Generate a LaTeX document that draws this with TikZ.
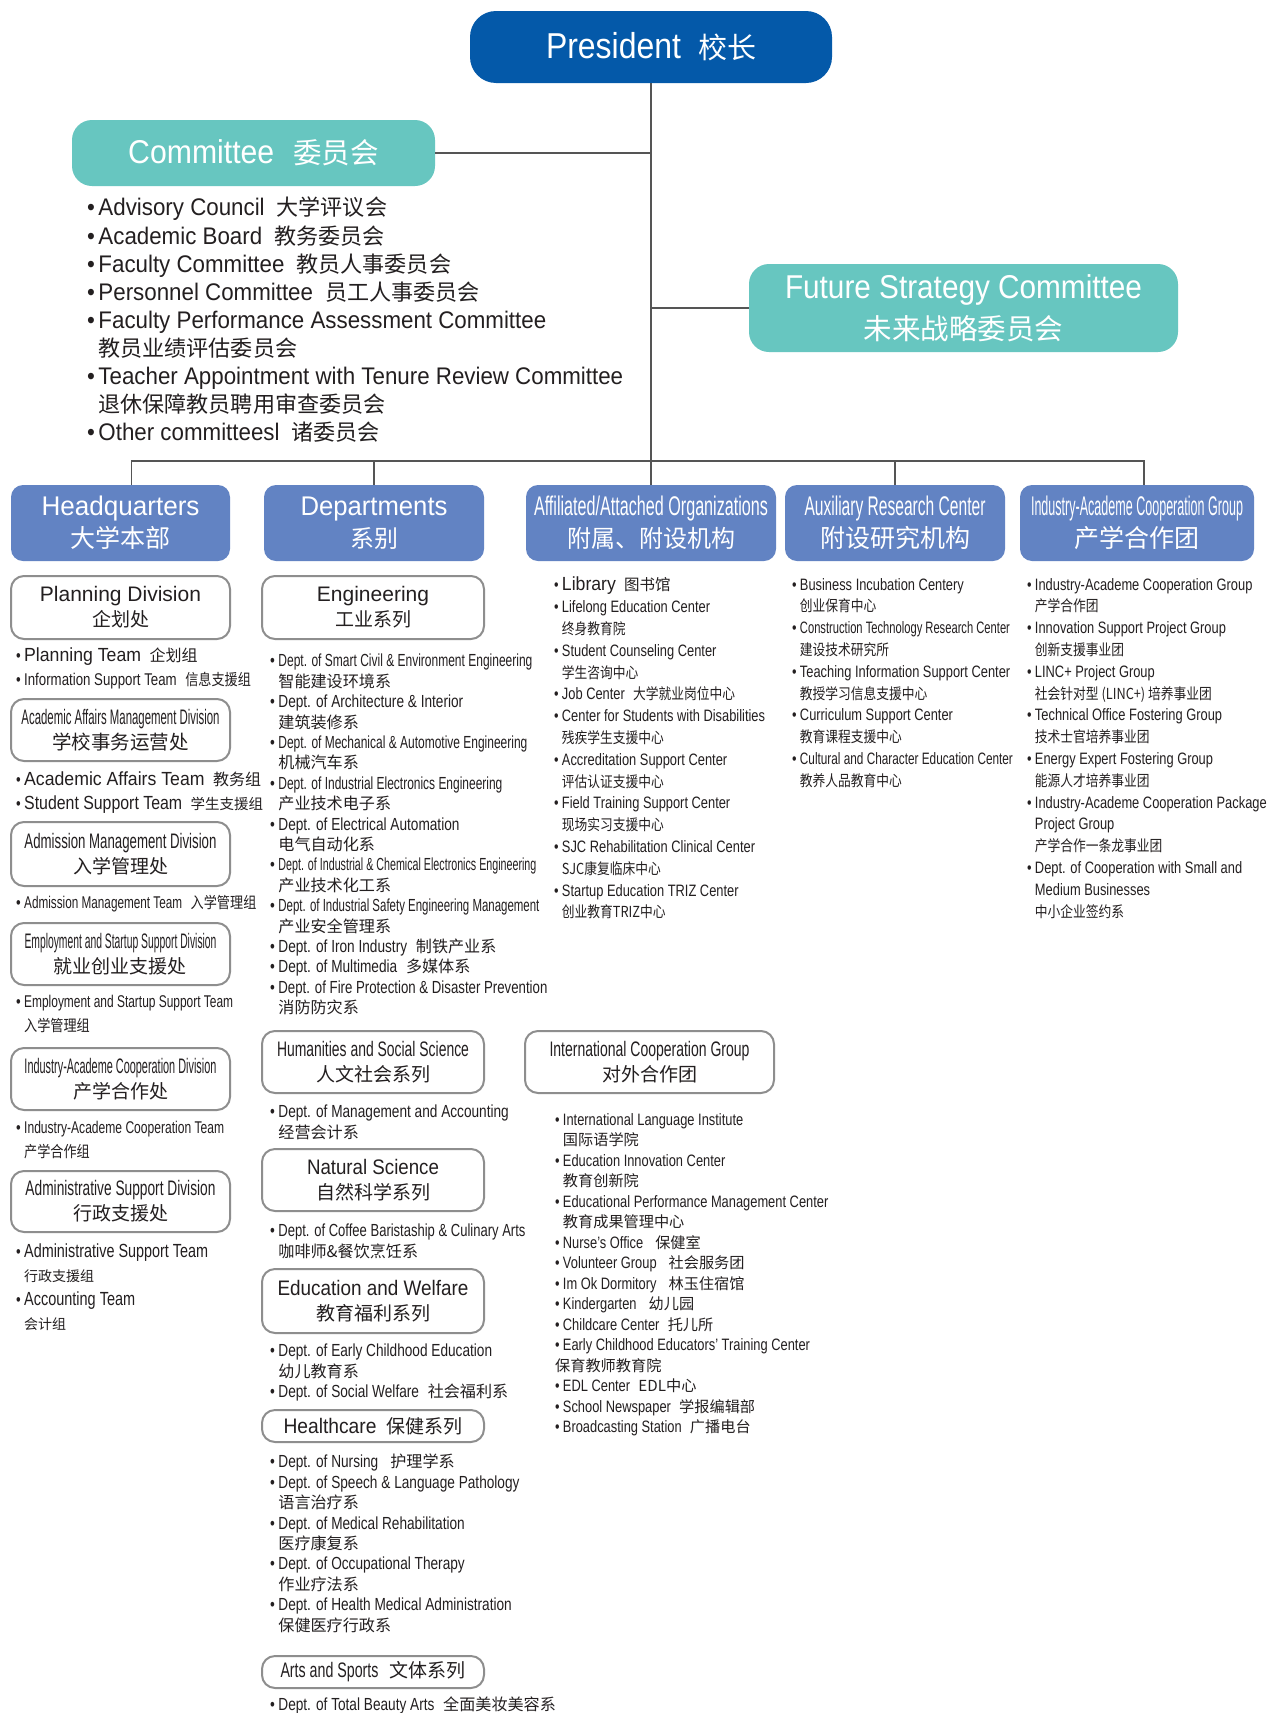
\documentclass[tikz,border=0pt]{standalone}
\usepackage{fontspec}
\usepackage{graphicx}
\setmainfont{Liberation Sans}
\newfontfamily\cnd{Liberation Sans}[FakeStretch=0.78]
\newfontfamily\mdf{Liberation Sans}[FakeStretch=0.93]
\newfontfamily\cjk{Noto Sans CJK SC}
\newfontfamily\cjkA{Noto Sans CJK SC}[Scale=0.92]
\newfontfamily\cjkB{Noto Sans CJK SC}[Scale=0.92, FakeStretch=0.84]
\let\zhf\cjkA
\newcommand\zh[1]{{\zhf#1}}
\newcommand\zt[2]{{\cjk\fontsize{#1}{#1}\selectfont#2}}
\newcommand\fw[2]{\resizebox{#1pt}{\height}{#2}}
\newcommand\gp{\hspace{.5em}}
\newcommand\bul{\makebox[.47em][l]{•}}
\newcommand\cnt{\hspace*{.47em}}
\newcommand\lrg[1]{{\mdf\fontsize{19}{24}\selectfont#1}}

\definecolor{presblue}{HTML}{0459A9}
\definecolor{comgreen}{HTML}{67C6C0}
\definecolor{headblue}{HTML}{6283C3}
\definecolor{boxgray}{HTML}{8E8E8E}
\definecolor{linkgray}{HTML}{555555}
\definecolor{txt}{HTML}{231F20}

\tikzset{
  link/.style={draw=linkgray, line width=1.4pt},
  presbox/.style={fill=presblue, text=white, rounded corners=26pt, minimum width=362pt,
    minimum height=72pt, inner sep=0pt, font=\fontsize{36}{40}\selectfont},
  combox/.style={fill=comgreen, text=white, rounded corners=20pt, inner sep=0pt,
    align=center, font=\fontsize{33}{41}\selectfont},
  headbox/.style={fill=headblue, text=white, rounded corners=12pt, minimum height=76pt,
    inner sep=0pt, align=center, font=\fontsize{27}{32}\selectfont},
  unit/.style={draw=boxgray, line width=2pt, fill=white, rounded corners=13pt,
    minimum width=219pt, inner sep=0pt, align=center, text=txt,
    font=\fontsize{21}{25}\selectfont},
  lst/.style={anchor=north west, inner sep=0pt, align=left, text=txt,
    execute at begin node=\strut},
  hqf/.style={font={\cnd\fontsize{17}{24}\selectfont\let\zhf\cjkB}},
  depf/.style={font={\cnd\fontsize{17.5}{20.4}\selectfont\let\zhf\cjkA}},
  orgf/.style={font={\cnd\fontsize{16.5}{21.8}\selectfont\let\zhf\cjkB}},
  icgf/.style={font={\cnd\fontsize{16.5}{20.5}\selectfont\let\zhf\cjkA}},
  comf/.style={font={\mdf\fontsize{24}{28.1}\selectfont\let\zhf\cjkA}},
}

\begin{document}
\begin{tikzpicture}[x=1pt,y=-1pt]
\useasboundingbox (0,0) rectangle (1278,1713);
\fill[white] (0,0) rectangle (1278,1713);

% top of the chart
\node[presbox] (pres) at (651,47) {\fw{135}{President}\hspace{17pt}\zt{29}{校长}};
\node[combox, minimum width=363pt, minimum height=66pt] (com) at (253.5,153)
  {\fw{146}{Committee}\hspace{19pt}\zt{28.5}{委员会}};
\node[combox, minimum width=429pt, minimum height=88pt] (fsc) at (963.5,308)
  {\fw{357}{Future Strategy Committee}\\\zt{28.5}{未来战略委员会}};
\node[lst, comf] (comlist) at (87,197) {\bul Advisory Council\gp\zh{大学评议会}\\
  \bul Academic Board\gp\zh{教务委员会}\\
  \bul Faculty Committee\gp\zh{教员人事委员会}\\
  \bul Personnel Committee\gp\zh{员工人事委员会}\\
  \bul Faculty Performance Assessment Committee\\
  \cnt\zh{教员业绩评估委员会}\\
  \bul Teacher Appointment with Tenure Review Committee\\
  \cnt\zh{退休保障教员聘用审查委员会}\\
  \bul Other committeesl\gp\zh{诸委员会}};

% second level
\node[headbox, minimum width=219pt] (hq) at (120.5,523) {\fw{158}{Headquarters}\\\zt{25}{大学本部}};
\node[headbox, minimum width=220pt] (dep) at (374,523) {\fw{147}{Departments}\\\zt{24}{系别}};
\node[headbox, minimum width=250pt] (aff) at (651,523)
  {\fw{234}{Affiliated/Attached Organizations}\\\zt{24}{附属、附设机构}};
\node[headbox, minimum width=220pt] (aux) at (895,523)
  {\fw{181}{Auxiliary Research Center}\\\zt{25}{附设研究机构}};
\node[headbox, minimum width=234pt] (ind) at (1137,523)
  {\fw{212}{Industry-Academe Cooperation Group}\\\zt{25}{产学合作团}};

\coordinate (bus) at (651,461);
\draw[link] (pres.south) -- (aff.north);
\draw[link] (com.east) -- (com.east -| pres.south);
\draw[link] (fsc.west) -- (fsc.west -| pres.south);
\draw[link] ([xshift=11pt]hq.north) |- (bus) -| ([xshift=7pt]ind.north);
\draw[link] (dep.north) -- (dep.north |- bus);
\draw[link] (aux.north) -- (aux.north |- bus);

% headquarters
\node[unit, minimum height=63pt] (plan) at (120.5,607.5) {Planning Division\\\zt{19}{企划处}};
\node[lst, hqf] (planlist) at (16,648) {\bul\lrg{Planning Team}\gp\zt{16}{企划组}\\
  \bul Information Support Team\gp\zh{信息支援组}};
\node[unit, minimum height=62pt] (acad) at (120.5,730)
  {\fw{198}{Academic Affairs Management Division}\\\zt{19.5}{学校事务运营处}};
\node[lst, hqf] (acadlist) at (16,772) {\bul\lrg{Academic Affairs Team}\gp\zt{16}{教务组}\\
  \bul\lrg{\fw{158}{Student Support Team}}\gp\zt{14.5}{学生支援组}};
\node[unit, minimum height=64pt] (adm) at (120.5,854)
  {\fw{192}{Admission Management Division}\\\zt{19}{入学管理处}};
\node[lst, hqf] (admlist) at (16,891) {\bul\fw{158}{Admission Management Team}\gp\zh{入学管理组}};
\node[unit, minimum height=62pt] (emp) at (120.5,954)
  {\fw{192}{Employment and Startup Support Division}\\\zt{19}{就业创业支援处}};
\node[lst, hqf] (emplist) at (16,995) {\bul\fw{209}{Employment and Startup Support Team}\\
  \cnt\zh{入学管理组}};
\node[unit, minimum height=62pt] (iacd) at (120.5,1079)
  {\fw{192}{Industry-Academe Cooperation Division}\\\zt{19}{产学合作处}};
\node[lst, hqf] (iacdlist) at (16,1121) {\bul\fw{200}{Industry-Academe Cooperation Team}\\
  \cnt\zh{产学合作组}};
\node[unit, minimum height=61pt] (admin) at (120.5,1201.5)
  {\fw{190}{Administrative Support Division}\\\zt{19}{行政支援处}};
\node[lst, hqf] (adminlist) at (16,1244) {\bul\lrg{\fw{184}{Administrative Support Team}}\\
  \cnt\zt{14}{行政支援组}\\
  \bul\lrg{\fw{111}{Accounting Team}}\\
  \cnt\zt{14}{会计组}};

% departments
\node[unit, minimum width=222pt, minimum height=63pt] (eng) at (373,607.5) {Engineering\\\zt{19}{工业系列}};
\node[lst, depf] (englist) at (270,654) {\bul\fw{254}{Dept. of Smart Civil \& Environment Engineering}\\
  \cnt\zh{智能建设环境系}\\
  \bul Dept. of Architecture \& Interior\\
  \cnt\zh{建筑装修系}\\
  \bul\fw{249}{Dept. of Mechanical \& Automotive Engineering}\\
  \cnt\zh{机械汽车系}\\
  \bul\fw{224}{Dept. of Industrial Electronics Engineering}\\
  \cnt\zh{产业技术电子系}\\
  \bul Dept. of Electrical Automation\\
  \cnt\zh{电气自动化系}\\
  \bul\fw{258}{Dept. of Industrial \& Chemical Electronics Engineering}\\
  \cnt\zh{产业技术化工系}\\
  \bul\fw{261}{Dept. of Industrial Safety Engineering Management}\\
  \cnt\zh{产业安全管理系}\\
  \bul Dept. of Iron Industry\gp\zh{制铁产业系}\\
  \bul Dept. of Multimedia\gp\zh{多媒体系}\\
  \bul\fw{269}{Dept. of Fire Protection \& Disaster Prevention}\\
  \cnt\zh{消防防灾系}};
\node[unit, minimum width=222pt, minimum height=62pt] (hum) at (373,1062)
  {\fw{192}{Humanities and Social Science}\\\zt{19}{人文社会系列}};
\node[lst, depf] (humlist) at (270,1105) {\bul Dept. of Management and Accounting\\
  \cnt\zh{经营会计系}};
\node[unit, minimum width=222pt, minimum height=62pt] (nat) at (373,1180)
  {\fw{132}{Natural Science}\\\zt{19}{自然科学系列}};
\node[lst, depf] (natlist) at (270,1224) {\bul\fw{247}{Dept. of Coffee Baristaship \& Culinary Arts}\\
  \cnt\zh{咖啡师\&餐饮烹饪系}};
\node[unit, minimum width=222pt, minimum height=64pt] (edu) at (373,1301)
  {\fw{191}{Education and Welfare}\\\zt{19}{教育福利系列}};
\node[lst, depf] (edulist) at (270,1344) {\bul Dept. of Early Childhood Education\\
  \cnt\zh{幼儿教育系}\\
  \bul Dept. of Social Welfare\gp\zh{社会福利系}};
\node[unit, minimum width=222pt, minimum height=32pt] (hlth) at (373,1426)
  {\fw{93}{Healthcare}\hspace{10pt}\zt{19}{保健系列}};
\node[lst, depf] (hlthlist) at (270,1454) {\bul Dept. of Nursing\hspace{12pt}\zh{护理学系}\\
  \bul Dept. of Speech \& Language Pathology\\
  \cnt\zh{语言治疗系}\\
  \bul Dept. of Medical Rehabilitation\\
  \cnt\zh{医疗康复系}\\
  \bul Dept. of Occupational Therapy\\
  \cnt\zh{作业疗法系}\\
  \bul Dept. of Health Medical Administration\\
  \cnt\zh{保健医疗行政系}};
\node[unit, minimum width=222pt, minimum height=32pt] (arts) at (373,1672)
  {\fw{98}{Arts and Sports}\hspace{11pt}\zt{19}{文体系列}};
\node[lst, depf] (artslist) at (270,1696) {\bul Dept. of Total Beauty Arts\gp\zh{全面美妆美容系}};

% affiliated / attached
\node[lst, orgf] (afflist) at (554,577) {\bul\lrg{Library}\gp\zt{15.5}{图书馆}\\
  \bul Lifelong Education Center\\
  \cnt\zh{终身教育院}\\
  \bul Student Counseling Center\\
  \cnt\zh{学生咨询中心}\\
  \bul Job Center\gp\zh{大学就业岗位中心}\\
  \bul Center for Students with Disabilities\\
  \cnt\zh{残疾学生支援中心}\\
  \bul Accreditation Support Center\\
  \cnt\zh{评估认证支援中心}\\
  \bul Field Training Support Center\\
  \cnt\zh{现场实习支援中心}\\
  \bul SJC Rehabilitation Clinical Center\\
  \cnt\zh{SJC康复临床中心}\\
  \bul Startup Education TRIZ Center\\
  \cnt\zh{创业教育TRIZ中心}};
\node[unit, minimum width=249pt, minimum height=62pt] (icg) at (649.5,1062)
  {\fw{200}{International Cooperation Group}\\\zt{19}{对外合作团}};
\node[lst, icgf] (icglist) at (555,1113) {\bul International Language Institute\\
  \cnt\zh{国际语学院}\\
  \bul Education Innovation Center\\
  \cnt\zh{教育创新院}\\
  \bul Educational Performance Management Center\\
  \cnt\zh{教育成果管理中心}\\
  \bul Nurse’s Office\hspace{12pt}\zh{保健室}\\
  \bul Volunteer Group\hspace{12pt}\zh{社会服务团}\\
  \bul Im Ok Dormitory\hspace{12pt}\zh{林玉住宿馆}\\
  \bul Kindergarten\hspace{12pt}\zh{幼儿园}\\
  \bul Childcare Center\gp\zh{托儿所}\\
  \bul Early Childhood Educators’ Training Center\\
  \zh{保育教师教育院}\\
  \bul EDL Center\gp\zh{EDL中心}\\
  \bul School Newspaper\gp\zh{学报编辑部}\\
  \bul Broadcasting Station\gp\zh{广播电台}};

% auxiliary research centers
\node[lst, orgf] (auxlist) at (792,578) {\bul Business Incubation Centery\\
  \cnt\zh{创业保育中心}\\
  \bul\fw{210}{Construction Technology Research Center}\\
  \cnt\zh{建设技术研究所}\\
  \bul Teaching Information Support Center\\
  \cnt\zh{教授学习信息支援中心}\\
  \bul Curriculum Support Center\\
  \cnt\zh{教育课程支援中心}\\
  \bul\fw{213}{Cultural and Character Education Center}\\
  \cnt\zh{教养人品教育中心}};

% industry-academe cooperation
\node[lst, orgf] (indlist) at (1027,578) {\bul Industry-Academe Cooperation Group\\
  \cnt\zh{产学合作团}\\
  \bul Innovation Support Project Group\\
  \cnt\zh{创新支援事业团}\\
  \bul LINC+ Project Group\\
  \cnt\zh{社会针对型 (LINC+) 培养事业团}\\
  \bul Technical Office Fostering Group\\
  \cnt\zh{技术士官培养事业团}\\
  \bul Energy Expert Fostering Group\\
  \cnt\zh{能源人才培养事业团}\\
  \bul Industry-Academe Cooperation Package\\
  \cnt Project Group\\
  \cnt\zh{产学合作一条龙事业团}\\
  \bul Dept. of Cooperation with Small and\\
  \cnt Medium Businesses\\
  \cnt\zh{中小企业签约系}};
\end{tikzpicture}
\end{document}
